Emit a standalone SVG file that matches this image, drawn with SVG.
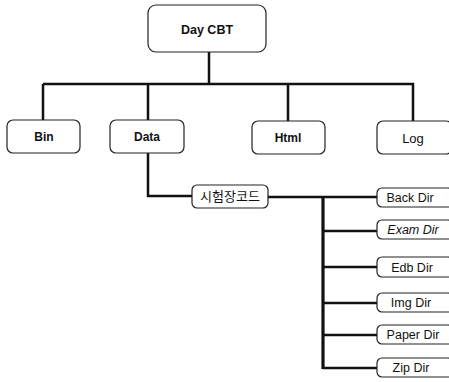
<svg xmlns="http://www.w3.org/2000/svg" width="449" height="382" viewBox="0 0 449 382">
<style>
.box{fill:#fff;stroke:#222;stroke-width:1.2}
.t{font-family:"Liberation Sans",Arial,sans-serif;font-size:12px;font-weight:bold;fill:#111;text-anchor:middle}
.c{font-family:"Liberation Sans",Arial,sans-serif;font-size:12.5px;fill:#111;text-anchor:middle}
.k{font-family:"Liberation Sans","Noto Sans CJK KR",sans-serif;font-size:13px;fill:#111;text-anchor:middle}
.ln{fill:none;stroke:#111;stroke-width:2.5;stroke-linejoin:miter}
</style>
<rect width="449" height="382" fill="#fff"/>
<g id="connectors">
<path class="ln" d="M209,52 V84 M43,84 H413 V121 M43,84 V120 M148,84 V120 M288,84 V121"/>
<path class="ln" d="M148,153 V196 H192 M268,197 H377"/>
<path class="ln" d="M323,197 V369" style="stroke-width:3.2"/>
<path class="ln" d="M323,231 H377 M323,267 H377 M323,303 H377 M323,335 H377 M323,368 H377"/>
</g>
<g id="day-cbt"><rect class="box" x="148" y="5" width="118" height="47" rx="8"/><text class="t" x="207" y="34" style="font-size:12.5px">Day CBT</text></g>
<g id="bin"><rect class="box" x="7" y="120" width="73" height="33" rx="6"/><text class="t" x="44" y="141">Bin</text></g>
<g id="data"><rect class="box" x="110" y="120" width="74" height="33" rx="6"/><text class="t" x="147" y="141">Data</text></g>
<g id="html"><rect class="box" x="252" y="121" width="73" height="33" rx="6"/><text class="t" x="288" y="142">Html</text></g>
<g id="log"><rect class="box" x="377" y="121" width="75" height="33" rx="6"/><text class="c" x="413" y="143" style="font-size:13px">Log</text></g>
<g id="exam-code"><rect class="box" x="192" y="185" width="76" height="23" rx="5"/><text class="k" x="230" y="201">시험장코드</text></g>
<g id="back-dir"><rect class="box" x="377" y="188" width="76" height="19" rx="5"/><text class="c" x="410" y="202">Back Dir</text></g>
<g id="exam-dir"><rect class="box" x="377" y="220" width="76" height="19" rx="5"/><text class="c" x="413" y="234" style="font-style:italic">Exam Dir</text></g>
<g id="edb-dir"><rect class="box" x="377" y="257" width="76" height="20" rx="5"/><text class="c" x="412" y="272">Edb Dir</text></g>
<g id="img-dir"><rect class="box" x="377" y="293" width="76" height="19" rx="5"/><text class="c" x="411" y="307">Img Dir</text></g>
<g id="paper-dir"><rect class="box" x="377" y="325" width="76" height="19" rx="5"/><text class="c" x="413" y="339">Paper Dir</text></g>
<g id="zip-dir"><rect class="box" x="377" y="358" width="76" height="19" rx="5"/><text class="c" x="411" y="372">Zip Dir</text></g>
</svg>
